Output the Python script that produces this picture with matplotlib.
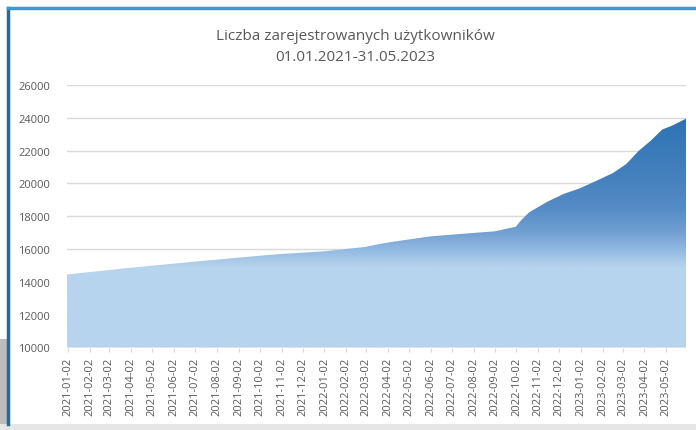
import matplotlib
matplotlib.use("Agg")
import matplotlib.pyplot as plt
import matplotlib.dates as mdates
import numpy as np
from matplotlib.colors import to_rgb
from matplotlib.patches import Rectangle
from matplotlib.lines import Line2D
import datetime as dt

title = "Liczba zarejestrowanych użytkowników\n01.01.2021-31.05.2023"

dates = ["2021-01-01", "2021-04-01", "2021-07-01", "2021-10-01", "2021-11-01",
         "2022-01-01", "2022-03-01", "2022-03-20", "2022-04-10", "2022-06-01",
         "2022-08-01", "2022-09-01", "2022-10-01", "2022-10-08", "2022-10-20",
         "2022-11-15", "2022-12-08", "2022-12-31", "2023-01-24", "2023-02-16",
         "2023-03-07", "2023-03-25", "2023-04-11", "2023-04-27", "2023-05-11",
         "2023-05-31"]
users = [14450, 14860, 15230, 15590, 15700,
         15860, 16130, 16300, 16450, 16770,
         16980, 17080, 17360, 17730, 18240,
         18890, 19360, 19700, 20170, 20630,
         21180, 22000, 22610, 23280, 23520,
         23950]

tick_labels = ["%d-%02d-02" % (y, m) for y in (2021, 2022, 2023) for m in range(1, 13)
               if not (y == 2023 and m > 5)]
y_ticks = [10000, 12000, 14000, 16000, 18000, 20000, 22000, 24000, 26000]

# gradient stops (value level -> colour)
grad_levels = [14900, 16000, 17000, 18500, 20500, 24000]
grad_colors = ["#b7d4ed", "#91b9e1", "#73a0d2", "#558cc6", "#4480be", "#2e73b4"]

W, H = 696, 431
fig = plt.figure(figsize=(W / 100, H / 100), dpi=100)
fig.patch.set_facecolor("white")

ax = fig.add_axes([67 / W, 1 - 348.5 / H, (686 - 67) / W, (348.5 - 86) / H])
ax.set_facecolor("white")

x = mdates.date2num([dt.datetime.strptime(d, "%Y-%m-%d") for d in dates])
yv = np.array(users)
xmin = mdates.date2num(dt.datetime(2021, 1, 1))
xmax = mdates.date2num(dt.datetime(2023, 5, 31))

vals = np.linspace(10000, 26000, 600)
cols = np.array([to_rgb(c) for c in grad_colors])
img = np.stack([np.interp(vals, grad_levels, cols[:, k]) for k in range(3)], axis=1)[:, None, :]
poly = ax.fill_between(x, 10000, yv, color="none", lw=0)
im = ax.imshow(img, extent=[xmin, xmax, 10000, 26000], origin="lower",
               aspect="auto", zorder=2, interpolation="bilinear")
im.set_clip_path(poly.get_paths()[0], transform=ax.transData)

ax.set_xlim(xmin, xmax)
ax.set_ylim(10000, 26000)
ax.set_yticks(y_ticks)
ax.set_yticklabels([str(v) for v in y_ticks])
tick_pos = mdates.date2num([dt.datetime.strptime(s, "%Y-%m-%d") for s in tick_labels])
ax.set_xticks(tick_pos)
ax.set_xticklabels(tick_labels, rotation=90)

ax.grid(axis="y", color="#d9d9d9", lw=1)
ax.set_axisbelow(True)
for s in ax.spines.values():
    s.set_visible(False)
ax.tick_params(axis="y", length=0, pad=12, labelsize=8, labelcolor="#595959")
ax.tick_params(axis="x", length=3, color="#d9d9d9", pad=4, labelsize=8, labelcolor="#595959")
for lbl in ax.get_xticklabels() + ax.get_yticklabels():
    lbl.set_fontfamily("Open Sans")

fig.text(355 / W, 1 - 47 / H, title, ha="center", va="center", fontsize=11,
         color="#595959", family="Open Sans", linespacing=1.5)

# frame
fig.add_artist(Line2D([8 / W, 8 / W], [1 - 9 / H, 1 - 425 / H], transform=fig.transFigure,
                      color="#1f6c9e", lw=2.5))
fig.add_artist(Line2D([8 / W, 1], [1 - 9 / H, 1 - 9 / H], transform=fig.transFigure,
                      color="#3a9bd0", lw=2.5))
fig.add_artist(Rectangle((0, 0), 1, 6 / H, transform=fig.transFigure,
                         facecolor="#e6e6e6", edgecolor="none"))
fig.add_artist(Rectangle((0, 6 / H), 7 / W, 85 / H, transform=fig.transFigure,
                         facecolor="#bdbdbd", edgecolor="none"))

fig.savefig("out.png", dpi=100)
